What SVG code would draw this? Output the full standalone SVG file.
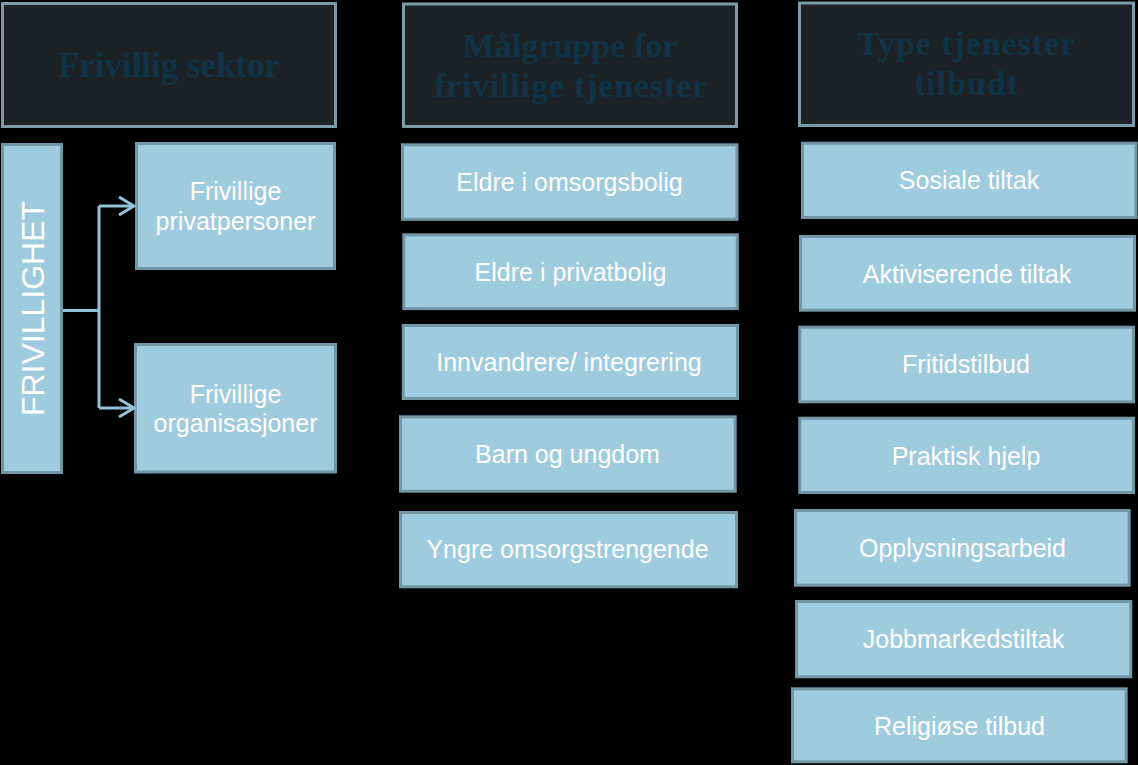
<svg xmlns="http://www.w3.org/2000/svg" width="1138" height="765" viewBox="0 0 1138 765">
<style>
.hdr{fill:#1c2226;stroke:#7a9ca9;stroke-width:3}
.hdt{font-family:"Liberation Serif",serif;font-weight:bold;fill:#0f3447;text-anchor:middle}
.box{fill:#9ecbde;stroke:#7196a4;stroke-width:3}
.bt{font-family:"Liberation Sans",Arial,sans-serif;font-size:25px;fill:#ffffff;text-anchor:middle}
.vt{font-family:"Liberation Sans",Arial,sans-serif;font-size:32px;fill:#ffffff;text-anchor:middle}
.con{fill:none;stroke:#92c3d8;stroke-width:3}
</style>
<defs>
<marker id="chev" markerUnits="userSpaceOnUse" markerWidth="20" markerHeight="22" refX="17" refY="11" orient="auto">
<path d="M2,2 L17,11 L2,20" fill="none" stroke="#92c3d8" stroke-width="3"/>
</marker>
</defs>
<rect x="0" y="0" width="1138" height="765" fill="#000000"/>

<g id="hdr-sektor">
<rect class="hdr" x="2.5" y="3.5" width="333" height="123"/>
<text class="hdt" x="169" y="77" font-size="35" textLength="222">Frivillig sektor</text>
</g>
<g id="hdr-malgruppe">
<rect class="hdr" x="403.5" y="4" width="333" height="122.5"/>
<text class="hdt" x="570" y="57" font-size="34" textLength="215">Målgruppe for</text>
<text class="hdt" x="570.5" y="97" font-size="34" textLength="273">frivillige tjenester</text>
</g>
<g id="hdr-type">
<rect class="hdr" x="799.5" y="3" width="334" height="122.5"/>
<text class="hdt" x="966" y="54.5" font-size="34" textLength="218">Type tjenester</text>
<text class="hdt" x="966" y="95" font-size="34" textLength="104">tilbudt</text>
</g>

<g id="frivillighet">
<rect class="box" x="2.5" y="144.5" width="59" height="328"/>
<text class="vt" x="0" y="0" transform="translate(44,308.5) rotate(-90)">FRIVILLIGHET</text>
</g>
<g id="privatpersoner">
<rect class="box" x="136.5" y="143.5" width="198" height="125"/>
<text class="bt" x="235.5" y="199.5">Frivillige</text>
<text class="bt" x="235.5" y="229.5">privatpersoner</text>
</g>
<g id="organisasjoner">
<rect class="box" x="135.5" y="344.5" width="200" height="127.5"/>
<text class="bt" x="235.5" y="403">Frivillige</text>
<text class="bt" x="235.5" y="432">organisasjoner</text>
</g>

<g id="connectors">
<path class="con" d="M63,310.5 H99"/>
<path class="con" d="M99,206 V408"/>
<path class="con" d="M99,206 H134" marker-end="url(#chev)"/>
<path class="con" d="M99,408 H134" marker-end="url(#chev)"/>
</g>

<g id="m1">
<rect class="box" x="402.5" y="144.8" width="334.5" height="74.5"/>
<text class="bt" x="569.5" y="191">Eldre i omsorgsbolig</text>
</g>
<g id="m2">
<rect class="box" x="403.8" y="234.8" width="333.5" height="73.8"/>
<text class="bt" x="570.5" y="281">Eldre i privatbolig</text>
</g>
<g id="m3">
<rect class="box" x="403.2" y="325.5" width="334.3" height="73"/>
<text class="bt" x="569" y="371">Innvandrere/ integrering</text>
</g>
<g id="m4">
<rect class="box" x="400.5" y="416.8" width="334.7" height="74.4"/>
<text class="bt" x="567.5" y="463">Barn og ungdom</text>
</g>
<g id="m5">
<rect class="box" x="400.5" y="512.5" width="336" height="74.3"/>
<text class="bt" x="567.5" y="558">Yngre omsorgstrengende</text>
</g>

<g id="r1">
<rect class="box" x="802.5" y="143.2" width="333.5" height="74.3"/>
<text class="bt" x="969" y="188.5">Sosiale tiltak</text>
</g>
<g id="r2">
<rect class="box" x="800.5" y="236.5" width="334" height="73.7"/>
<text class="bt" x="967" y="282.5">Aktiviserende tiltak</text>
</g>
<g id="r3">
<rect class="box" x="799.8" y="327.2" width="333.7" height="74.6"/>
<text class="bt" x="966" y="373">Fritidstilbud</text>
</g>
<g id="r4">
<rect class="box" x="799.8" y="418.2" width="333.7" height="74.3"/>
<text class="bt" x="966" y="465">Praktisk hjelp</text>
</g>
<g id="r5">
<rect class="box" x="795.5" y="510.5" width="333.7" height="74.7"/>
<text class="bt" x="962.5" y="557">Opplysningsarbeid</text>
</g>
<g id="r6">
<rect class="box" x="796.5" y="601.5" width="334.3" height="75.3"/>
<text class="bt" x="963.5" y="647.5">Jobbmarkedstiltak</text>
</g>
<g id="r7">
<rect class="box" x="792.5" y="688.8" width="333.7" height="73"/>
<text class="bt" x="959.5" y="735">Religiøse tilbud</text>
</g>
</svg>
